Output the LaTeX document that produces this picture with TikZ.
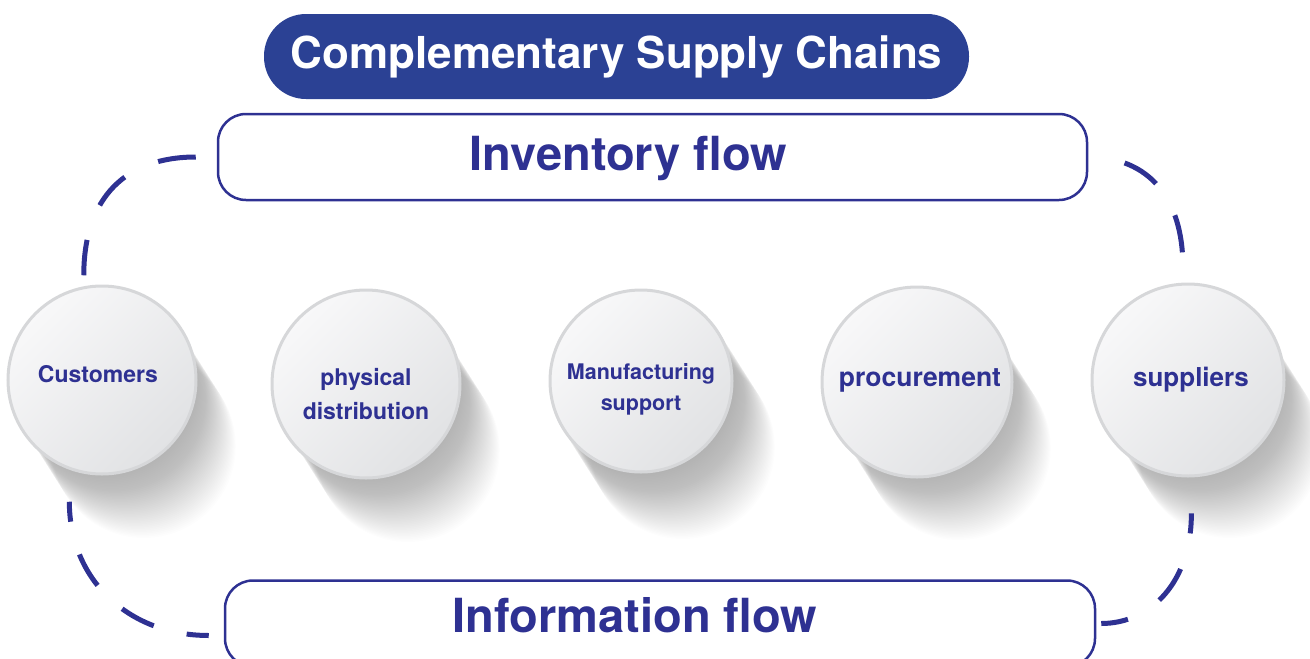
\documentclass[tikz,border=0pt]{standalone}
\usepackage{fontspec}
\setmainfont{TeX Gyre Heros}
\usetikzlibrary{positioning,calc,backgrounds}

\definecolor{chainblue}{HTML}{2B4194}
\definecolor{inkblue}{HTML}{2E3192}
\definecolor{ballrim}{HTML}{D6D7D9}
\definecolor{balllight}{HTML}{F8F8F9}
\definecolor{balldark}{HTML}{E1E2E4}

\begin{document}
\begin{tikzpicture}[x=1pt,y=-1pt]
  \useasboundingbox (0,0) rectangle (1310,659);

  % title
  \node [fill=chainblue, rounded corners=42pt, minimum width=705pt,
    minimum height=85pt, text=white,
    font=\fontsize{44}{48}\selectfont\bfseries] (title) at (616.5,56.5)
    {Complementary Supply Chains};

  \begin{scope}[
    flowbox/.style={
      draw=inkblue,
      line width=2.5pt,
      fill=white,
      rounded corners=28pt,
      minimum width=869pt,
      minimum height=86pt,
    },
    flowtext/.style={
      text=inkblue,
      font=\fontsize{47}{50}\selectfont\bfseries,
    },
    ]
    % inventory
    \node [flowbox] (inv) at (652.5,157) {};
    \node [flowtext] (invtext) at (628.5,159) {Inventory flow};

    % information
    \node [flowbox, minimum width=870pt] (info) at (660,623.5) {};
    \node [flowtext] (infotext) at (635,615) {Information flow};
  \end{scope}

  \begin{scope}[
    ball/.style={
      circle,
      draw=ballrim,
      line width=3pt,
      top color=balllight,
      bottom color=balldark,
      shading angle=45,
      minimum size=188pt,
      inner sep=0pt,
    },
    balltext/.style={
      text=inkblue,
      align=center,
      font=\fontsize{#1}{1.45\dimexpr#1pt\relax}\selectfont\bfseries,
    },
    ]
    % Customers
    \node [ball] (cust) at (102,380) {};
    \node [balltext=23] (custtext) at ([xshift=-4pt,yshift=6pt]cust.center) {Customers};

    % physical distribution
    \node [ball] (phys) at (366,384) {};
    \node [balltext=23] (phystext) at ([yshift=-10pt]phys.center) {physical\\distribution};

    % Manufacturing support
    \node [ball, minimum size=182pt] (manu) at (641,381) {};
    \node [balltext=21.5] (manutext) at ([yshift=-8pt]manu.center) {Manufacturing\\support};

    % procurement
    \node [ball, minimum size=190pt] (proc) at (917,382) {};
    \node [balltext=26.5] (proctext) at ([xshift=3pt,yshift=2pt]proc.center) {procurement};

    % suppliers
    \node [ball, minimum size=192pt] (supp) at (1188,380) {};
    \node [balltext=26] (supptext) at ([xshift=3pt]supp.center) {suppliers};
  \end{scope}

  % long soft shadows
  \begin{scope}[on background layer]
    \foreach \ball in {cust,phys,manu,proc,supp}
      \foreach \i in {1,...,44}
        \fill [black, opacity=0.009] ($(\ball.center)+(\i*0.95,\i*1.5)$) circle (92pt);
  \end{scope}

  \begin{scope}[
    flowdash/.style={
      draw=inkblue,
      line width=5pt,
      dash pattern=on 38pt off 37pt,
    },
    ]
    % Path inventory
    \draw [flowdash, shorten <=21pt, shorten >=11pt]
      (inv.west) .. controls +(-90,0) and +(0,-90) .. (cust.101);
    \draw [flowdash, dash phase=38pt, shorten >=16pt]
      (inv.east) .. controls +(60,0) and +(0,-85) .. (supp.93);

    % Path information
    \draw [flowdash, dash pattern=on 36pt off 34pt, dash phase=16pt,
      shorten <=32pt, shorten >=15pt]
      (cust.250) .. controls +(0,110) and +(-95,0) .. ([yshift=-12pt]info.west);
    \draw [flowdash, dash phase=18pt, shorten <=36pt, shorten >=5pt]
      (supp.272) .. controls +(0,104) and +(55,0) .. (info.east);
  \end{scope}
\end{tikzpicture}
\end{document}
